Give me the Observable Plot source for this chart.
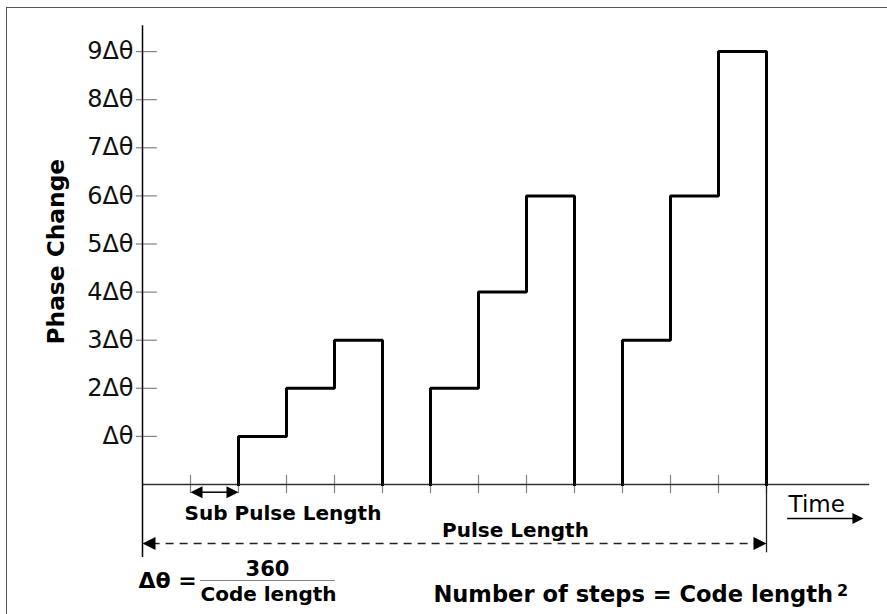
<!DOCTYPE html>
<html>
<head>
<meta charset="utf-8">
<script src="https://cdn.jsdelivr.net/npm/d3@7"></script>
<script src="https://cdn.jsdelivr.net/npm/@observablehq/plot@0.6"></script>
<style>
  html, body { margin: 0; padding: 0; background: white; overflow: hidden; }
  #wrap { position: relative; width: 887px; height: 614px; }
  #wrap svg { position: absolute; left: 0; top: 0; }
  #border { position: absolute; left: 6px; top: 7px; width: 2000px; height: 2000px;
            border-left: 1px solid #555; border-top: 1px solid #555; pointer-events: none; }
</style>
</head>
<body>
<div id="wrap"><div id="border"></div></div>
<script>
// ---- data ----
const xTicks = [1, 2, 3, 4, 5, 6, 7, 8, 9, 10, 11, 12, 13];          // sub-pulse slot boundaries
const yTicks = [1, 2, 3, 4, 5, 6, 7, 8, 9];                          // phase levels
const yTickLabels = ["Δθ", "2Δθ", "3Δθ", "4Δθ", "5Δθ", "6Δθ", "7Δθ", "8Δθ", "9Δθ"];
const pulseStart = [2, 6, 10];                                       // slot where each pulse begins
const pulsePhases = [[1, 2, 3], [2, 4, 6], [3, 6, 9]];               // phase step of each sub-pulse

// build stepped outline of each pulse from the data
const vertices = [];
pulseStart.forEach((s, p) => {
  const ph = pulsePhases[p];
  vertices.push({pulse: p, t: s, v: 0});
  ph.forEach((v, i) => {
    vertices.push({pulse: p, t: s + i, v});
    vertices.push({pulse: p, t: s + i + 1, v});
  });
  vertices.push({pulse: p, t: s + ph.length, v: 0});
});
const pulseEnd = pulseStart[pulseStart.length - 1] + pulsePhases[pulsePhases.length - 1].length;

// filled arrow-head symbols (tip at the origin)
const headRight = {draw(ctx, size) { const r = Math.sqrt(size / Math.PI); ctx.moveTo(0, 0); ctx.lineTo(-2 * r, -r); ctx.lineTo(-2 * r, r); ctx.closePath(); }};
const headLeft  = {draw(ctx, size) { const r = Math.sqrt(size / Math.PI); ctx.moveTo(0, 0); ctx.lineTo(2 * r, -r); ctx.lineTo(2 * r, r); ctx.closePath(); }};

const F = "DejaVu Sans, Verdana, sans-serif";
const one = [0];

const chart = Plot.plot({
  width: 887,
  height: 614,
  marginLeft: 142,
  marginRight: 1,
  marginTop: 3,
  marginBottom: 130,
  style: {fontFamily: F, background: "transparent", color: "black"},
  x: {domain: [0, 15.5], axis: null},
  y: {domain: [0, 10], axis: null},
  marks: [
    // y tick labels
    Plot.axisY({ticks: yTicks, tickFormat: d => yTickLabels[yTicks.indexOf(d)], tickSize: 0, tickPadding: 9,
                fontSize: 24, label: null, fill: "#111"}),
    // tick marks
    Plot.ruleY(yTicks, {y: d => d, x1: -0.125, x2: 0.31, stroke: "#808080", strokeWidth: 1.2}),
    Plot.ruleX(xTicks, {x: d => d, y1: -0.19, y2: 0.19, stroke: "#808080", strokeWidth: 1.2}),
    // axis lines
    Plot.ruleY([0], {x1: 0, x2: 15.15, stroke: "#333", strokeWidth: 1.5}),
    Plot.ruleX([0], {y1: -1.52, y2: 9.54, stroke: "black", strokeWidth: 1.5}),
    Plot.ruleX([pulseEnd], {y1: -1.42, y2: 0, stroke: "#222", strokeWidth: 1.3}),
    // pulses
    Plot.line(vertices, {x: "t", y: "v", z: "pulse", stroke: "black", strokeWidth: 3,
                         strokeLinejoin: "miter", strokeLinecap: "square"}),
    // sub pulse length arrow
    Plot.ruleY(one, {y: -0.16, x1: 1.2, x2: 1.8, stroke: "black", strokeWidth: 1.5}),
    Plot.dot(one, {x: 1, y: -0.16, symbol: headLeft, r: 6, fill: "black", stroke: null}),
    Plot.dot(one, {x: 2, y: -0.16, symbol: headRight, r: 6, fill: "black", stroke: null}),
    Plot.text(["Sub Pulse Length"], {x: 2.927, y: -0.748, text: d => d, fontSize: 20, fontWeight: "bold", lineAnchor: "bottom"}),
    // pulse length dashed arrow
    Plot.ruleY(one, {y: -1.227, x1: 0.2, x2: pulseEnd - 0.2, stroke: "#222", strokeWidth: 1.5, strokeDasharray: "8,6"}),
    Plot.dot(one, {x: 0, y: -1.227, symbol: headLeft, r: 6.5, fill: "black", stroke: null}),
    Plot.dot(one, {x: pulseEnd, y: -1.227, symbol: headRight, r: 6.5, fill: "black", stroke: null}),
    Plot.text(["Pulse Length"], {x: 7.77, y: -1.10, text: d => d, fontSize: 20, fontWeight: "bold", lineAnchor: "bottom"}),
    // time arrow
    Plot.text(["Time"], {x: 13.46, y: -0.58, text: d => d, fontSize: 23, textAnchor: "start", lineAnchor: "bottom"}),
    Plot.ruleY(one, {y: -0.707, x1: 13.44, x2: 14.9, stroke: "black", strokeWidth: 1.5}),
    Plot.dot(one, {x: 15.02, y: -0.707, symbol: headRight, r: 5.5, fill: "black", stroke: null}),
    // y axis title
    Plot.text(["Phase Change"], {x: -1.79, y: 4.84, text: d => d, fontSize: 23.3, fontWeight: "bold", rotate: -90}),
    // formulas
    Plot.text(["Δθ ="], {x: -0.083, y: -2.16, text: d => d, fontSize: 22, fontWeight: "bold", textAnchor: "start", lineAnchor: "bottom"}),
    Plot.text(["360"], {x: 2.604, y: -1.892, text: d => d, fontSize: 21, fontWeight: "bold", lineAnchor: "bottom"}),
    Plot.ruleY(one, {y: -1.996, x1: 1.208, x2: 4.02, stroke: "#888", strokeWidth: 1.2}),
    Plot.text(["Code length"], {x: 2.625, y: -2.43, text: d => d, fontSize: 20, fontWeight: "bold", lineAnchor: "bottom"}),
    Plot.text(["Number of steps = Code length"], {x: 6.06, y: -2.45, text: d => d, fontSize: 22.6, fontWeight: "bold", textAnchor: "start", lineAnchor: "bottom"}),
    Plot.text(["2"], {x: 14.47, y: -2.31, text: d => d, fontSize: 16, fontWeight: "bold", textAnchor: "start", lineAnchor: "bottom"})
  ]
});
document.getElementById("wrap").prepend(chart);
</script>
</body>
</html>
